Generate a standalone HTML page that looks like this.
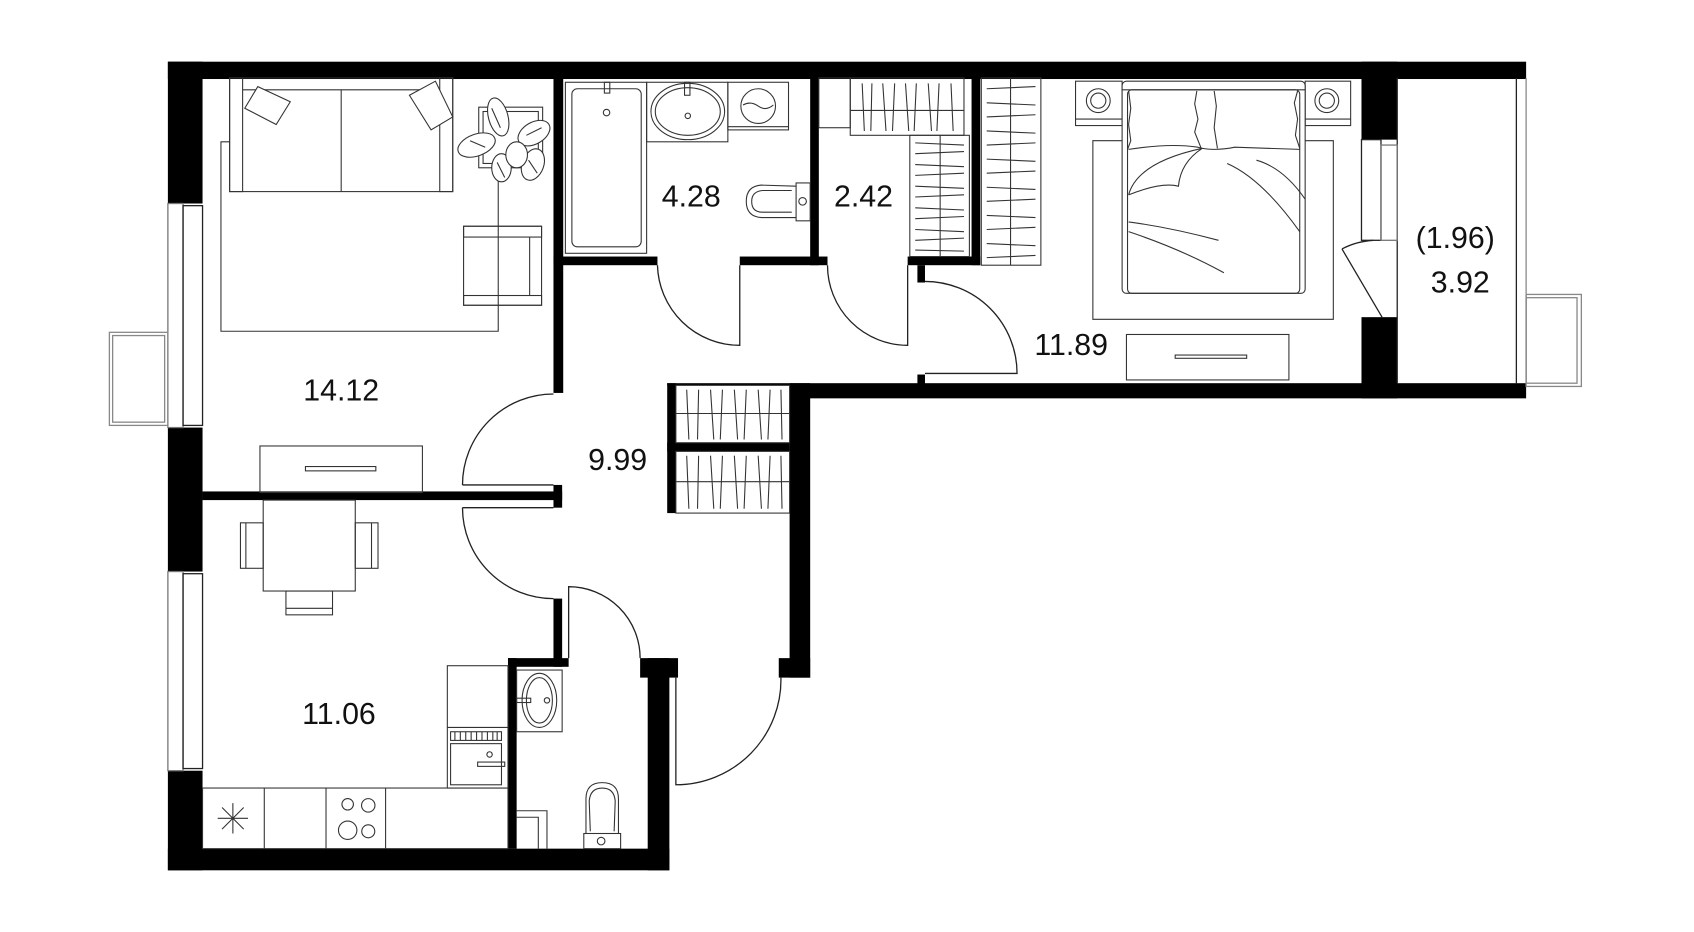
<!DOCTYPE html>
<html><head><meta charset="utf-8"><style>
html,body{margin:0;padding:0;background:#fff;}
svg{display:block;}
text{font-family:"Liberation Sans",sans-serif;font-size:28px;fill:#111;}
</style></head><body>
<svg width="1694" height="932" viewBox="0 0 1564 861" preserveAspectRatio="none" xmlns="http://www.w3.org/2000/svg">
<rect x="0" y="0" width="1564" height="861" fill="#fff"/>
<g fill="#000">
<!-- top wall -->
<rect x="155" y="57" width="1254" height="16"/>
<!-- left wall segments -->
<rect x="155" y="57" width="32" height="131"/>
<rect x="155" y="395" width="32" height="133"/>
<rect x="155" y="712" width="32" height="92"/>
<!-- bottom wall -->
<rect x="155" y="784" width="463" height="20"/>
<!-- WC right wall -->
<rect x="598" y="608" width="20" height="196"/>
<rect x="591" y="608" width="35" height="18"/>
<!-- WC top wall & left wall -->
<rect x="469" y="608" width="56" height="8"/>
<rect x="469" y="608" width="8" height="176"/>
<rect x="511" y="553" width="8" height="63"/>
<!-- living/kitchen divider -->
<rect x="187" y="454" width="332" height="8"/>
<rect x="511" y="448" width="8" height="21"/>
<!-- hall left wall -->
<rect x="511" y="72" width="9" height="291"/>
<!-- bathroom bottom wall -->
<rect x="511" y="237" width="96" height="8"/>
<rect x="683" y="237" width="81" height="8"/>
<rect x="748" y="72" width="8" height="173"/>
<!-- closet -->
<rect x="838" y="237" width="67" height="8"/>
<rect x="897" y="72" width="8" height="173"/>
<rect x="847" y="245" width="7" height="16"/>
<rect x="847" y="346" width="7" height="10"/>
<!-- hall right wall -->
<rect x="729" y="354" width="19" height="272"/>
<rect x="719" y="608" width="29" height="18"/>
<!-- bedroom bottom wall -->
<rect x="729" y="354" width="680" height="14"/>
<!-- hall wardrobe -->
<rect x="616" y="354" width="8" height="120"/>
<rect x="616" y="409" width="113" height="8"/>
<rect x="616" y="354" width="113" height="2"/>
<!-- bedroom right wall -->
<rect x="1257" y="57" width="33" height="72"/>
<rect x="1257" y="293" width="33" height="75"/>
<rect x="1257" y="129" width="33" height="5" fill="none"/>
</g>
<g fill="none" stroke="#222" stroke-width="1.2">
<!-- left windows -->
<rect x="155" y="188" width="14" height="207" stroke="#777"/>
<rect x="169" y="190" width="18" height="203"/>
<rect x="155" y="528" width="14" height="184" stroke="#777"/>
<rect x="169" y="530" width="18" height="180"/>
<!-- left balcony -->
<rect x="101" y="307" width="54" height="86" stroke="#888"/>
<rect x="104" y="310" width="48" height="80" stroke="#888"/>
<!-- right balcony -->
<line x1="1290" y1="72" x2="1290" y2="354"/>
<line x1="1400" y1="72" x2="1400" y2="354"/>
<line x1="1409" y1="72" x2="1409" y2="354" stroke="#888"/>
<rect x="1409" y="272" width="51" height="85" stroke="#888"/>
<rect x="1409" y="275" width="47" height="79" stroke="#888"/>
<!-- bedroom window -->
<rect x="1257" y="129" width="18" height="93"/>
<rect x="1275" y="134" width="15" height="88" stroke="#777"/>
<!-- balcony door -->
<line x1="1276" y1="293" x2="1239" y2="230"/>
<path d="M1239 230 Q1252 223 1268 222"/>
<!-- doors -->
<path d="M427 448 L511 448 M427 448 A84 84 0 0 1 511 364"/>
<path d="M427 469 L511 469 M427 469 A84 84 0 0 0 511 553"/>
<path d="M525 608 L525 542 A66 66 0 0 1 591 608"/>
<path d="M624 626 L624 725 A97 97 0 0 0 721 626"/>
<path d="M683 245 L683 319 A76 76 0 0 1 607 245"/>
<path d="M838 245 L838 319 A74 74 0 0 1 764 245"/>
<path d="M854 345 L939 345 A85 85 0 0 0 854 260"/>
</g>
<g fill="none" stroke="#333" stroke-width="1">
<!-- sofa -->
<rect x="212" y="72" width="206" height="105"/>
<rect x="212" y="72" width="12" height="105"/>
<rect x="406" y="72" width="12" height="105"/>
<line x1="224" y1="83" x2="406" y2="83"/>
<line x1="315" y1="83" x2="315" y2="177"/>
<path d="M226 100 L238 80 L268 94 L255 115 Z" fill="#fff"/>
<path d="M378 88 L402 75 L418 108 L398 120 Z" fill="#fff"/>
<!-- rug -->
<path d="M212 131 L204 131 L204 306 L460 306 L460 160"/>
<!-- plant -->
<rect x="442" y="99" width="59" height="56"/>
<rect x="446" y="103" width="51" height="48"/>
<g fill="#fff">
<ellipse cx="460" cy="108" rx="9" ry="18" transform="rotate(-15 460 108)"/>
<ellipse cx="440" cy="134" rx="18" ry="10" transform="rotate(-20 440 134)"/>
<ellipse cx="493" cy="123" rx="16" ry="10" transform="rotate(-30 493 123)"/>
<ellipse cx="492" cy="152" rx="10" ry="15" transform="rotate(20 492 152)"/>
<ellipse cx="463" cy="155" rx="9" ry="13"/>
<ellipse cx="477" cy="143" rx="10" ry="12"/>
</g>
<path d="M454 100 L462 118 M434 130 L448 136 M486 125 L500 118 M488 148 L496 160 M459 150 L466 164"/>
<!-- armchair -->
<rect x="428" y="209" width="72" height="73"/>
<rect x="428" y="209" width="72" height="10"/>
<rect x="428" y="273" width="72" height="9"/>
<line x1="489" y1="219" x2="489" y2="273"/>
<!-- living TV -->
<rect x="240" y="412" width="150" height="43"/>
<rect x="282" y="431" width="65" height="4"/>
<!-- dining -->
<rect x="243" y="462" width="85" height="84"/>
<rect x="222" y="483" width="21" height="42"/>
<line x1="227" y1="483" x2="227" y2="525"/>
<rect x="328" y="483" width="21" height="42"/>
<line x1="343" y1="483" x2="343" y2="525"/>
<rect x="264" y="546" width="43" height="22"/>
<line x1="264" y1="562" x2="307" y2="562"/>
<!-- kitchen -->
<rect x="187" y="728" width="282" height="56"/>
<line x1="244" y1="728" x2="244" y2="784"/>
<line x1="301" y1="728" x2="301" y2="784"/>
<line x1="356" y1="728" x2="356" y2="784"/>
<path d="M201 756 L229 756 M215 742 L215 770 M205 746 L225 766 M225 746 L205 766"/>
<circle cx="321" cy="743" r="5.3"/><circle cx="340" cy="744" r="6.2"/>
<circle cx="321" cy="767" r="8.5"/><circle cx="340" cy="768" r="6"/>
<rect x="413" y="615" width="56" height="113"/>
<line x1="413" y1="672" x2="469" y2="672"/>
<rect x="416" y="676" width="47" height="8"/>
<path d="M420 676 v8 M425 676 v8 M430 676 v8 M435 676 v8 M440 676 v8 M445 676 v8 M450 676 v8 M455 676 v8 M459 676 v8"/>
<rect x="416" y="687" width="47" height="38"/>
<rect x="441" y="704" width="25" height="4"/>
<circle cx="452" cy="697" r="2.5"/>
<!-- WC -->
<rect x="477" y="619" width="42" height="57"/>
<ellipse cx="498" cy="647" rx="16" ry="25"/>
<ellipse cx="498" cy="647" rx="12" ry="21"/>
<rect x="477" y="645" width="13" height="4"/>
<circle cx="505" cy="647" r="2.5"/>
<path d="M541 770 L541 738 Q541 723 556 723 Q571 723 571 738 L571 770"/>
<path d="M545 768 L544 740 Q545 728 556 728 Q567 728 568 740 L567 768"/>
<rect x="539" y="770" width="34" height="14"/>
<circle cx="555" cy="777" r="3.5"/>
<path d="M477 749 L505 749 L505 784 M477 755 L497 755 L497 784"/>
<!-- bathroom -->
<rect x="522" y="76" width="75" height="158"/>
<rect x="528" y="82" width="64" height="146" rx="5"/>
<rect x="558" y="76" width="5" height="10"/>
<circle cx="560" cy="104" r="3"/>
<rect x="597" y="76" width="75" height="55"/>
<ellipse cx="635" cy="103" rx="34" ry="26"/>
<ellipse cx="635" cy="103" rx="30" ry="22"/>
<rect x="632" y="76" width="5" height="12"/>
<circle cx="635" cy="107" r="2.5"/>
<rect x="672" y="76" width="56" height="44"/>
<line x1="672" y1="117" x2="728" y2="117"/>
<circle cx="700" cy="98" r="16"/>
<path d="M686 97 Q693 93 700 98 Q707 103 714 97"/>
<rect x="735" y="169" width="13" height="35"/>
<path d="M735 172 L703 171 Q689 172 689 186 Q689 200 703 201 L735 201"/>
<path d="M731 176 L704 176 Q694 177 694 186 Q694 196 704 196 L731 196"/>
<circle cx="741" cy="186" r="3.5"/>
<!-- closet 2.42 -->
<rect x="756" y="72" width="29" height="46"/>
<rect x="785" y="72" width="105" height="53"/>
<line x1="785" y1="102" x2="890" y2="102"/>
<path d="M796 77 l2 44 M805 77 l-1 44 M815 77 l3 44 M826 77 l-2 44 M836 77 l3 44 M846 77 l-2 44 M857 77 l3 44 M867 77 l-2 44 M878 77 l2 44"/>
<rect x="840" y="125" width="55" height="112"/>
<line x1="868" y1="125" x2="868" y2="237"/>
<path d="M845 132 l45 2 M845 142 l45 -2 M845 152 l45 2 M845 162 l45 -2 M845 172 l45 2 M845 182 l45 -2 M845 192 l45 2 M845 202 l45 -2 M845 212 l45 2 M845 222 l45 -2 M845 231 l45 1"/>
<!-- bedroom wardrobe -->
<rect x="906" y="72" width="55" height="173"/>
<line x1="933" y1="72" x2="933" y2="245"/>
<path d="M911 82 l45 -2 M911 95 l45 2 M911 108 l45 -2 M911 121 l45 2 M911 134 l45 -2 M911 147 l45 2 M911 160 l45 -2 M911 173 l45 2 M911 186 l45 -2 M911 199 l45 2 M911 212 l45 -2 M911 225 l45 2 M911 238 l45 -2"/>
<!-- hall wardrobe lines -->
<rect x="624" y="356" width="105" height="53"/>
<rect x="624" y="417" width="105" height="57"/>
<line x1="624" y1="382" x2="729" y2="382"/>
<line x1="624" y1="445" x2="729" y2="445"/>
<path d="M634 360 l2 46 M645 360 l-1 46 M656 360 l3 46 M667 360 l-2 46 M678 360 l3 46 M689 360 l-2 46 M700 360 l3 46 M711 360 l-2 46 M721 360 l1 46"/>
<path d="M634 421 l2 49 M645 421 l-1 49 M656 421 l3 49 M667 421 l-2 49 M678 421 l3 49 M689 421 l-2 49 M700 421 l3 49 M711 421 l-2 49 M721 421 l1 49"/>
<!-- bed -->
<rect x="993" y="75" width="43" height="41"/>
<line x1="993" y1="110" x2="1036" y2="110"/>
<circle cx="1014" cy="93" r="11"/><circle cx="1014" cy="93" r="7"/>
<rect x="1205" y="75" width="42" height="41"/>
<line x1="1205" y1="110" x2="1247" y2="110"/>
<circle cx="1225" cy="93" r="11"/><circle cx="1225" cy="93" r="7"/>
<path d="M1036 130 L1009 130 L1009 295 L1231 295 L1231 130 L1205 130"/>
<rect x="1036" y="75" width="169" height="196" rx="4" fill="#fff"/>
<line x1="1036" y1="83" x2="1205" y2="83"/>
<rect x="1041" y="83" width="159" height="188" rx="4"/>
<path d="M1042 84 L1044 100 L1042 115 L1044 130 L1041 138 M1105 84 L1103 96 L1106 110 L1103 122 L1109 137 M1121 84 L1123 98 L1121 118 L1124 137 M1198 84 L1195 95 L1198 110 L1196 125 L1200 137 M1042 138 Q1080 132 1106 136 Q1120 140 1140 136 Q1170 137 1200 138"/>
<path d="M1042 180 Q1050 150 1110 137 Q1090 150 1088 172 Q1072 168 1042 180"/>
<path d="M1133 151 Q1165 165 1200 214 M1160 148 Q1185 155 1205 184 M1042 205 Q1080 210 1125 222 M1042 214 Q1090 230 1130 252"/>
<!-- bedroom TV -->
<rect x="1040" y="309" width="150" height="42"/>
<rect x="1085" y="328" width="66" height="3"/>
</g>
<g>
<text x="280" y="370">14.12</text>
<text x="279" y="669">11.06</text>
<text x="543" y="434">9.99</text>
<text x="611" y="191">4.28</text>
<text x="770" y="191">2.42</text>
<text x="955" y="328">11.89</text>
<text x="1307" y="229">(1.96)</text>
<text x="1321" y="270">3.92</text>
</g>
</svg>
</body></html>
